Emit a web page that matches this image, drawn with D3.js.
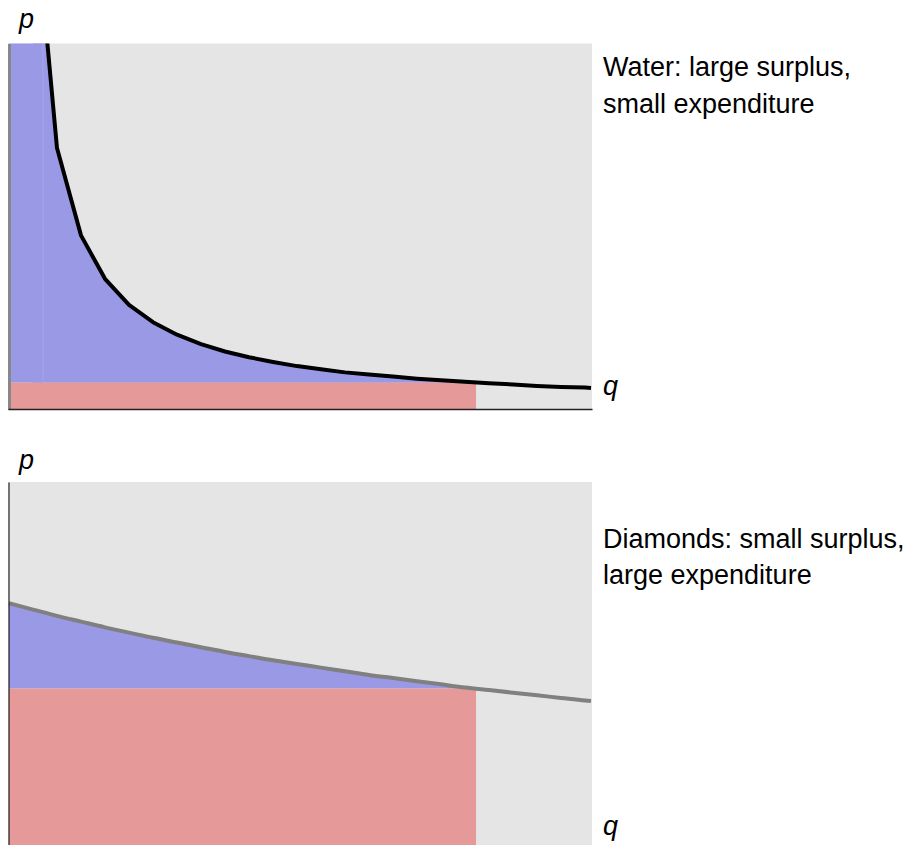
<!DOCTYPE html>
<html><head><meta charset="utf-8">
<script src="https://cdn.jsdelivr.net/npm/d3@7"></script>
<style>
body{margin:0;background:#fff}
svg{display:block}
text{font-family:"Liberation Sans",Arial,Helvetica,sans-serif;fill:#000}
</style>
</head><body>
<script>
// ---- data ----
const qWater = [1,2,3,4,5,6,7,8,9,10,11,12,13,14,15,16,17,18,19,20,21,22,23,24,24.25];
const pWater = [10,5,3.33,2.5,2,1.67,1.43,1.25,1.11,1.0,0.91,0.83,0.77,0.71,0.67,0.63,0.59,0.56,0.53,0.5,0.48,0.45,0.43,0.42,0.41];
const qDiamond = [0,1,2,3,4,5,6,7,8,9,10,11,12,13,14,15,16,17,18,19,20,21,22,23,24,24.25];
const pDiamond = [4.68,4.56,4.44,4.33,4.22,4.12,4.02,3.93,3.84,3.75,3.67,3.59,3.52,3.45,3.38,3.31,3.25,3.19,3.13,3.07,3.02,2.97,2.92,2.87,2.82,2.81];
const qStar = 19.46;
const pStarWater = 0.514;
const pStarDiamond = 3.05;
const qSeam = 1.42;
const qDomain = [0, 24.25];
const pDomain = [0, 7];
const titlesWater = ["Water: large surplus,", "small expenditure"];
const titlesDiamond = ["Diamonds: small surplus,", "large expenditure"];
const axisLabels = ["p", "q"];

const W = 906, H = 845;
const svg = d3.select("body").append("svg").attr("width", W).attr("height", H);

const colBlue = "#9999e6", colRed = "#e59999", colPanel = "#e5e5e5";

function panel(opts) {
  const {top, bottom, qs, ps, pStar, curveColor, curveFn, titles, id, seam, leftAxisStyle, bottomAxis, qLabelY, pLabelY} = opts;
  const x = d3.scaleLinear().domain(qDomain).range([9, 591]);
  const y = d3.scaleLinear().domain(pDomain).range([bottom, top]);
  const g = svg.append("g");
  g.append("clipPath").attr("id", id).append("rect")
    .attr("x", 8).attr("y", top).attr("width", 584).attr("height", bottom - top);
  g.append("rect").attr("x", 8).attr("y", top).attr("width", 584).attr("height", bottom - top)
    .attr("fill", colPanel);
  const cg = g.append("g").attr("clip-path", `url(#${id})`);
  const data = qs.map((q, i) => ({q, p: ps[i]}));
  const under = data.filter(d => d.q < qStar).concat([{q: qStar, p: pStar}]);
  // consumer surplus
  if (seam) {
    cg.append("rect").attr("x", x(0)).attr("y", top - 5)
      .attr("width", x(qSeam) - x(0)).attr("height", y(pStar) - top + 5).attr("fill", colBlue);
  }
  cg.append("path").datum(under)
    .attr("fill", colBlue)
    .attr("d", d3.area().x(d => x(d.q)).y0(y(pStar)).y1(d => y(d.p)).curve(curveFn));
  if (seam) {
    cg.append("line").attr("x1", x(qSeam)).attr("x2", x(qSeam))
      .attr("y1", top).attr("y2", y(pStar)).attr("stroke", "#a6a6ec").attr("stroke-width", 1);
  }
  // expenditure
  cg.append("rect").attr("x", x(0)).attr("y", y(pStar))
    .attr("width", x(qStar) - x(0)).attr("height", y(0) - y(pStar)).attr("fill", colRed);
  // demand curve
  cg.append("path").datum(data)
    .attr("fill", "none").attr("stroke", curveColor).attr("stroke-width", 4)
    .attr("stroke-linejoin", "round")
    .attr("d", d3.line().x(d => x(d.q)).y(d => y(d.p)).curve(curveFn));
  // axes
  const ax = g.append("g").attr("transform", `translate(${leftAxisStyle.x},0)`)
    .call(d3.axisLeft(d3.scaleLinear().domain(pDomain).range([Math.min(bottom, H), top])).tickValues([]).tickSizeOuter(0));
  ax.select(".domain").attr("stroke", leftAxisStyle.color).attr("stroke-width", leftAxisStyle.width);
  if (bottomAxis) {
    const bx = g.append("g").attr("transform", `translate(0,${bottom - 0.5})`)
      .call(d3.axisBottom(d3.scaleLinear().domain(qDomain).range([8, 592])).tickValues([]).tickSizeOuter(0));
    bx.select(".domain").attr("stroke", "#222").attr("stroke-width", 1.5);
  }
  // labels
  svg.append("text").attr("x", 19).attr("y", pLabelY).attr("font-size", 27)
    .attr("font-style", "italic").text(axisLabels[0]);
  svg.append("text").attr("x", 603).attr("y", qLabelY).attr("font-size", 27)
    .attr("font-style", "italic").text(axisLabels[1]);
  titles.forEach((t, i) => {
    svg.append("text").attr("x", 603).attr("y", opts.titleY + i * 36.5)
      .attr("font-size", 27).text(t);
  });
}

panel({
  id: "clipW", top: 43.5, bottom: 409.5, qs: qWater, ps: pWater, pStar: pStarWater,
  curveColor: "#000", curveFn: d3.curveLinear, titles: titlesWater, seam: true,
  leftAxisStyle: {x: 9, color: "#888", width: 3}, bottomAxis: true,
  pLabelY: 28, qLabelY: 395, titleY: 76
});
panel({
  id: "clipD", top: 482, bottom: 848, qs: qDiamond, ps: pDiamond, pStar: pStarDiamond,
  curveColor: "#808080", curveFn: d3.curveMonotoneX, titles: titlesDiamond, seam: false,
  leftAxisStyle: {x: 8.5, color: "#000", width: 1}, bottomAxis: false,
  pLabelY: 469, qLabelY: 835, titleY: 547.5
});
</script>
</body></html>
